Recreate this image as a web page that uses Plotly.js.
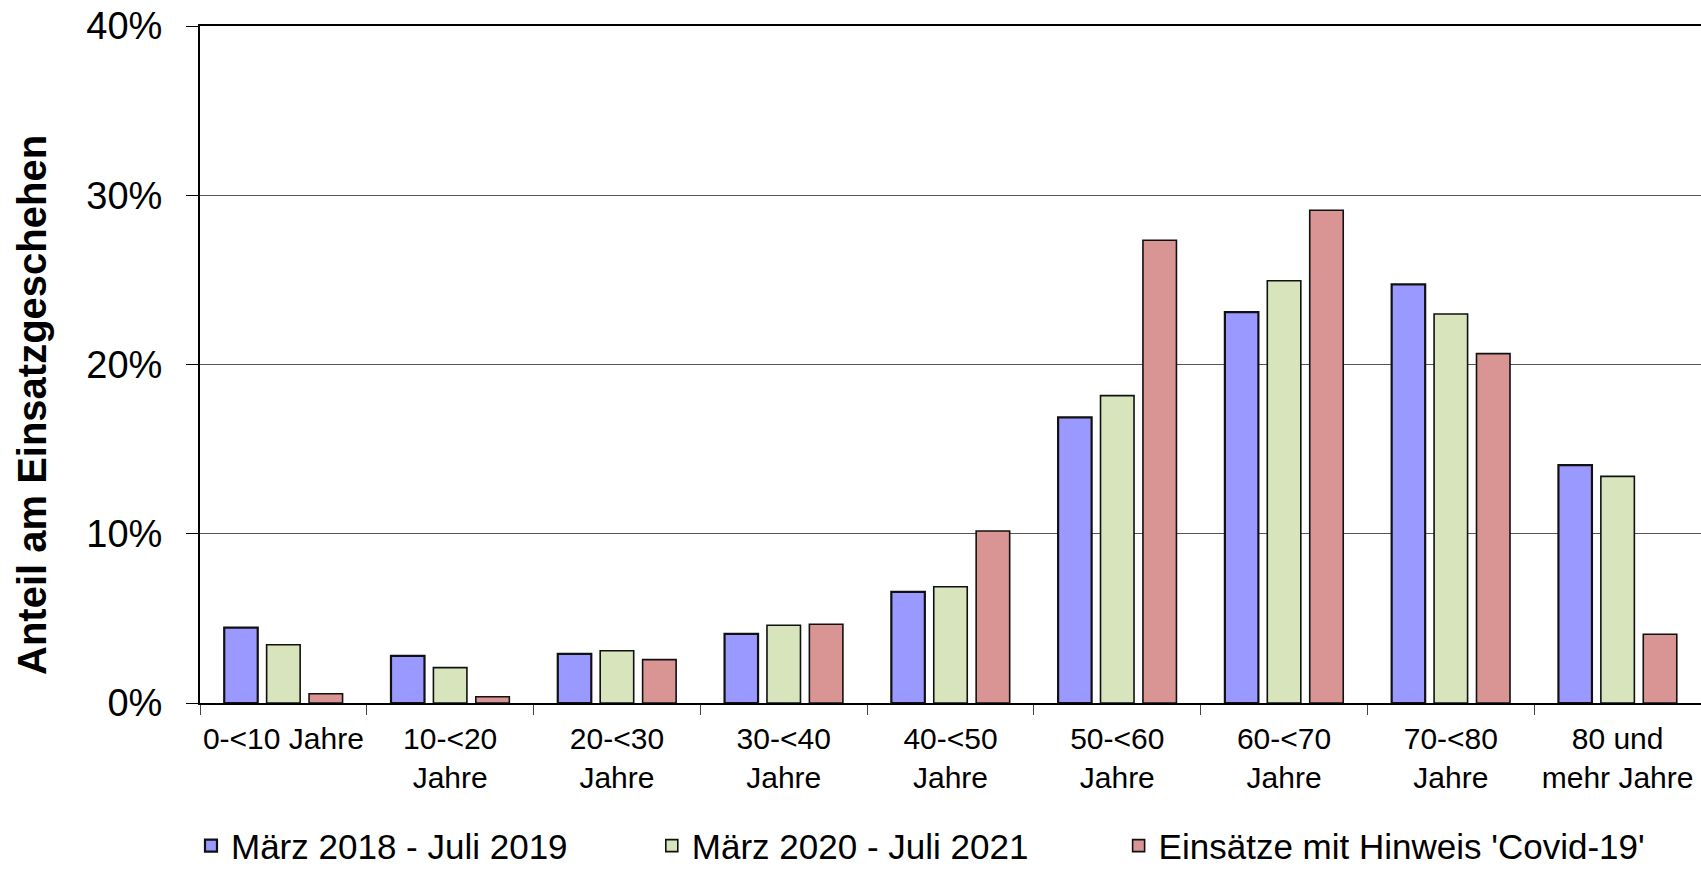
<!DOCTYPE html>
<html><head><meta charset="utf-8">
<script src="https://cdn.plot.ly/plotly-3.0.1.min.js"></script>
<style>html,body{margin:0;padding:0;background:#fff;overflow:hidden}</style>
</head><body>
<div id="chart" style="width:1701px;height:896px"></div>
<script>
const categories = ['0-<10 Jahre', '10-<20<br>Jahre', '20-<30<br>Jahre', '30-<40<br>Jahre', '40-<50<br>Jahre', '50-<60<br>Jahre', '60-<70<br>Jahre', '70-<80<br>Jahre', '80 und<br>mehr Jahre'];
const seriesNames = ['März 2018 - Juli 2019', 'März 2020 - Juli 2021', "Einsätze mit Hinweis 'Covid-19'"];
const valuesPeriod2018 = [4.45, 2.78, 2.90, 4.09, 6.56, 16.88, 23.10, 24.74, 14.06];
const valuesPeriod2020 = [3.44, 2.09, 3.09, 4.59, 6.87, 18.16, 24.95, 22.98, 13.39];
const valuesCovid = [0.55, 0.37, 2.56, 4.65, 10.16, 27.34, 29.11, 20.64, 4.06];
const yTickValues = [0, 10, 20, 30, 40];
const yTickLabels = ['0%', '10%', '20%', '30%', '40%'];
const yTitle = 'Anteil am Einsatzgeschehen';

const colors = ['#9999FF', '#D8E4BC', '#D99594'];
const lineWidths = [2.2, 1.6, 1.6];
const seriesValues = [valuesPeriod2018, valuesPeriod2020, valuesCovid];
const legendIds = ['legend', 'legend2', 'legend3'];
const legendX = [-0.006, 0.301, 0.612];

const traces = seriesValues.map((vals, i) => ({
  type: 'bar',
  name: seriesNames[i],
  x: categories,
  y: vals,
  legend: legendIds[i],
  marker: { color: colors[i], line: { color: '#111', width: lineWidths[i] } },
  hoverinfo: 'x+y'
}));

const layout = {
  width: 1701, height: 896,
  margin: { l: 200, r: 0, t: 26, b: 193 },
  paper_bgcolor: '#fff', plot_bgcolor: '#fff',
  font: { family: 'Liberation Sans, Arial, sans-serif', color: '#000' },
  barmode: 'group',
  bargap: 0.237,
  bargroupgap: 0.21,
  showlegend: true,
  xaxis: {
    type: 'category',
    range: [-0.5, 8.5],
    showline: true, linecolor: '#000', linewidth: 2, mirror: true,
    ticks: 'outside', tickson: 'boundaries', ticklen: 10, tickcolor: '#444', tickwidth: 1,
    tickfont: { size: 30 },
    tickangle: 0,
    ticklabelstandoff: 8,
    showgrid: false, zeroline: false
  },
  yaxis: {
    range: [0, 40],
    tickvals: yTickValues, ticktext: yTickLabels,
    showline: true, linecolor: '#000', linewidth: 2,
    ticks: 'outside', ticklen: 12, tickcolor: '#000', tickwidth: 1,
    tickfont: { size: 38 },
    ticklabelstandoff: 16,
    showgrid: true, gridcolor: '#555', gridwidth: 1,
    zeroline: false,
    fixedrange: true
  },
  annotations: [{
    text: '<b>' + yTitle + '</b>',
    xref: 'paper', yref: 'paper',
    x: -0.112, y: 0.44, xanchor: 'center', yanchor: 'middle',
    textangle: -90, showarrow: false,
    font: { size: 40, family: 'Liberation Sans, Arial, sans-serif', color: '#000' }
  }]
};

legendIds.forEach((id, i) => {
  layout[id] = {
    orientation: 'h', x: legendX[i], xanchor: 'left', y: -0.211, yanchor: 'middle',
    font: { size: 35, family: 'Liberation Sans, Arial, sans-serif', color: '#000' },
    itemwidth: 30, bgcolor: 'rgba(0,0,0,0)'
  };
});

Plotly.newPlot('chart', traces, layout, { displayModeBar: false, staticPlot: true });
</script>
</body></html>
